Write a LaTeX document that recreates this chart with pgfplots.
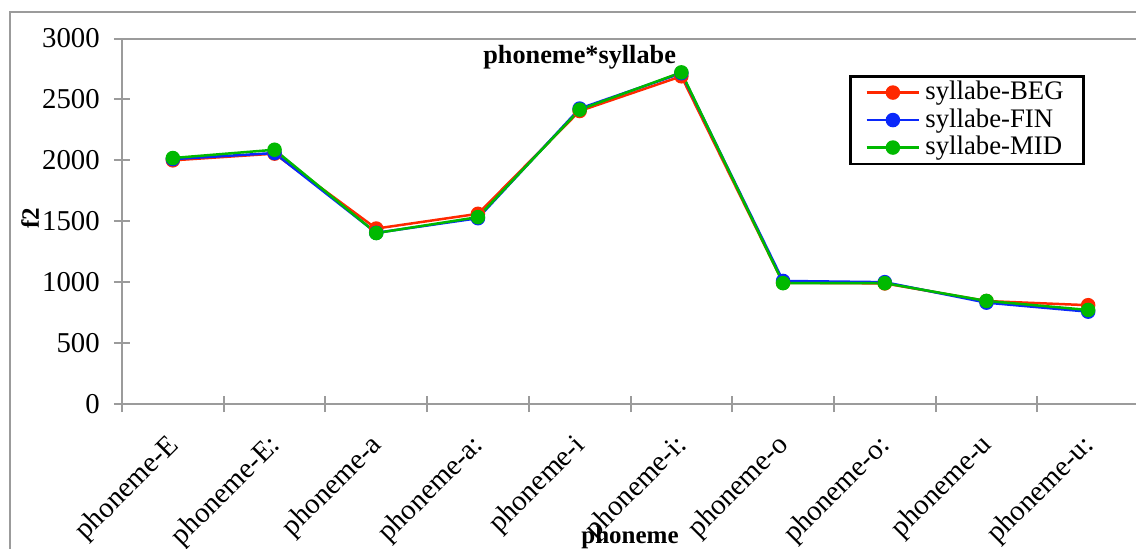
\documentclass[border=0pt]{standalone}
\usepackage{pgfplots}
\pgfplotsset{compat=1.18}
\usepackage{fontspec}
\setmainfont{Liberation Serif}
\definecolor{cred}{RGB}{255,40,0}
\definecolor{cblue}{RGB}{10,40,250}
\definecolor{cgreen}{RGB}{0,185,0}
\definecolor{axgray}{RGB}{155,155,155}
\begin{document}
\fontsize{10.5}{12.6}\selectfont
\begin{tikzpicture}
\useasboundingbox (-48.8pt,-57.6pt) rectangle (405.6pt,161.6pt);
\clip (-48.8pt,-57.6pt) rectangle (405.6pt,161.6pt);
\draw[axgray, line width=0.8pt] (-44.8pt,-80pt) rectangle (430pt,156.8pt);
\begin{axis}[
  width=406.8pt, height=146.2pt, scale only axis,
  xmin=-0.5, xmax=9.5, ymin=0, ymax=3000,
  axis line style={axgray, line width=0.8pt},
  tick style={axgray, line width=0.8pt},
  major tick length=6.4pt, tick align=center,
  xtick pos=bottom, ytick pos=left,
  xtick={-0.5,0.5,1.5,2.5,3.5,4.5,5.5,6.5,7.5,8.5,9.5}, xticklabels={},
  extra x ticks={0,1,2,3,4,5,6,7,8,9},
  extra x tick labels={phoneme-E,phoneme-E:,phoneme-a,phoneme-a:,phoneme-i,phoneme-i:,phoneme-o,phoneme-o:,phoneme-u,phoneme-u:},
  extra x tick style={major tick length=0pt, tick label style={xshift=-3pt, yshift=-6.2pt, rotate=45, anchor=north east, font=\fontsize{11.5}{13.8}\selectfont}},
  ytick={0,500,1000,1500,2000,2500,3000},
  yticklabel style={xshift=-2pt, font=\fontsize{11.5}{13.8}\selectfont},
  /pgf/number format/assume math mode=true,
  /pgf/number format/1000 sep={},
  xlabel={phoneme},
  xlabel style={at={(axis description cs:0.4995,-0.364)}, anchor=center, font=\fontsize{10}{12}\selectfont\bfseries},
  ylabel={f2},
  ylabel style={at={(axis description cs:-0.0905,0.509)}, anchor=center, font=\fontsize{10}{12}\selectfont\bfseries},
  every axis plot/.append style={line width=1pt, mark=*, mark size=2.4pt},
  legend style={at={(rel axis cs:0.715,0.900)}, anchor=north west, draw=black, line width=1pt,
    font=\fontsize{10.7}{12.8}\selectfont, inner xsep=6pt, inner ysep=0pt, row sep=-2pt},
  legend cell align=left,
  legend image code/.code={\draw[mark repeat=2,mark phase=2] plot coordinates {(0pt,0pt) (10.5pt,0pt) (21pt,0pt)};},
]
\addplot[cred, mark options={fill=cred}] coordinates {(0,2000) (1,2055) (2,1440) (3,1561) (4,2405) (5,2690) (6,995) (7,990) (8,845) (9,811)};
\addlegendentry{syllabe-BEG}
\addplot[cblue, mark options={fill=cblue}] coordinates {(0,2010) (1,2060) (2,1405) (3,1525) (4,2425) (5,2715) (6,1010) (7,1000) (8,832) (9,758)};
\addlegendentry{syllabe-FIN}
\addplot[cgreen, mark options={fill=cgreen}] coordinates {(0,2019) (1,2087) (2,1403) (3,1534) (4,2416) (5,2722) (6,992) (7,992) (8,846) (9,772)};
\addlegendentry{syllabe-MID}
\node[font=\fontsize{10.5}{12.6}\selectfont\bfseries] at (rel axis cs:0.45,0.948) {phoneme*syllabe};
\end{axis}
\end{tikzpicture}
\end{document}
